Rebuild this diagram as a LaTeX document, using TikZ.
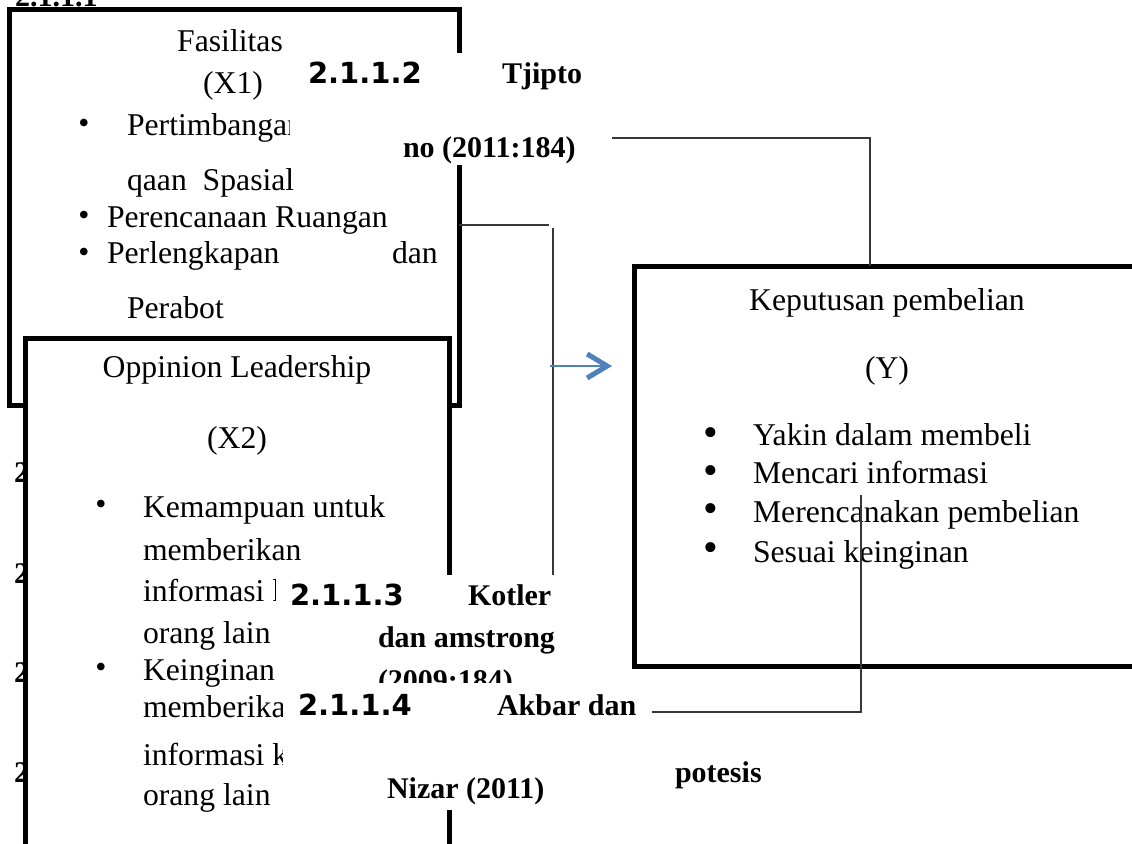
\documentclass[tikz,border=0pt]{standalone}
\usepackage{fontspec}
\setmainfont{Liberation Serif}
\newfontfamily\hsans{DejaVu Sans}
\usetikzlibrary{arrows.meta}
\definecolor{arrowblue}{RGB}{79,129,189}
\definecolor{linegray}{RGB}{55,55,55}
\begin{document}
\begin{tikzpicture}[x=1pt,y=-1pt,
  frame/.style={draw=black,line width=5pt,fill=white,rectangle,inner sep=0pt,outer sep=0pt},
  body/.style={font=\fontsize{31.7}{38}\selectfont,inner sep=0pt,outer sep=0pt,anchor=base west},
  bodyc/.style={body,anchor=base},
  head/.style={font=\fontsize{30}{36}\selectfont\bfseries,inner sep=0pt,outer sep=0pt,anchor=base west},
  headsans/.style={font=\hsans\fontsize{29}{34}\selectfont\bfseries,inner sep=0pt,outer sep=0pt,anchor=base west},
  cover/.style={fill=white,draw=none,rectangle,inner sep=0pt,outer sep=0pt},
  conn/.style={draw=linegray,line width=1.1pt},
  bul/.style={font=\fontsize{31.7}{38}\selectfont,inner sep=0pt,outer sep=0pt,anchor=center},
  bigbul/.style={font=\fontsize{42}{48}\selectfont,inner sep=0pt,outer sep=0pt,anchor=center},
  ]
\clip (0,0) rectangle (1132,843);
\fill[white] (0,0) rectangle (1132,843);

% partially hidden headings at the far left
\node[head] (t0) at (15,7) {2.1.1.1};
\node[head] (l1) at (14,482) {2};
\node[head] (l2) at (14,583) {2};
\node[head] (l3) at (14,682) {2};
\node[head] (l4) at (14,782) {2};

% Box X1
\node[frame,minimum width=449.5pt,minimum height=395.5pt] (fas) at (234.25,207.25) {};
\node[bodyc] (fas1) at (230,52) {Fasilitas};
\node[bodyc] (fas2) at (233,93) {(X1)};
\node[bul] (fb1) at (84,126) {\textbullet};
\node[body] (fa1) at (127,135) {Pertimbangan};
\node[body] (fa2) at (127,190) {qaan\ \ Spasial};
\node[bul] (fb2) at (84,218) {\textbullet};
\node[body] (fa3) at (107,227) {Perencanaan Ruangan};
\node[bul] (fb3) at (84,255) {\textbullet};
\node[body] (fa4) at (107,263) {Perlengkapan};
\node[body] (fa5) at (392,263) {dan};
\node[body] (fa6) at (127,318) {Perabot};

% Box X2
\node[frame,minimum width=424pt,minimum height=562pt] (opl) at (237,619) {};
\node[bodyc] (op1) at (237,377) {Oppinion Leadership};
\node[bodyc] (op2) at (237,448) {(X2)};
\node[bul] (ob1) at (101,507) {\textbullet};
\node[body] (oa1) at (143,517) {Kemampuan untuk};
\node[body] (oa2) at (143,560) {memberikan};
\node[body] (oa3) at (143,601) {informasi kepada};
\node[body] (oa4) at (143,643) {orang lain};
\node[bul] (ob2) at (101,670) {\textbullet};
\node[body] (oa5) at (143,680) {Keinginan untuk};
\node[body] (oa6) at (143,717) {memberikan};
\node[body] (oa7) at (143,765) {informasi kepada};
\node[body] (oa8) at (143,805) {orang lain};

% Box Y
\node[frame,minimum width=566pt,minimum height=400pt] (kp) at (917,466) {};
\node[bodyc] (kp1) at (887,310) {Keputusan pembelian};
\node[bodyc] (kp2) at (887,378) {(Y)};
\node[bigbul] (kb1) at (711,437) {\textbullet};
\node[body] (ka1) at (753,445) {Yakin dalam membeli};
\node[bigbul] (kb2) at (711,475) {\textbullet};
\node[body] (ka2) at (753,483) {Mencari informasi};
\node[bigbul] (kb3) at (711,513) {\textbullet};
\node[body] (ka3) at (753,522) {Merencanakan pembelian};
\node[bigbul] (kb4) at (711,552) {\textbullet};
\node[body] (ka4) at (753,562) {Sesuai keinginan};

% connectors
\coordinate (c1a) at (612,138);
\coordinate (c1b) at (870,266);
\draw[conn] (c1a) -| (c1b);
\coordinate (c2a) at (459,225);
\coordinate (c2b) at (549,225);
\draw[conn] (c2a) -- (c2b);
\coordinate (c3a) at (553,228);
\coordinate (c3b) at (553,576);
\draw[conn] (c3a) -- (c3b);
\coordinate (c4a) at (652,712);
\coordinate (c4b) at (861,495);
\draw[conn] (c4a) -| (c4b);
\coordinate (arA) at (550,366);
\coordinate (arB) at (612,366);
\draw[draw=arrowblue,line width=1.3pt,-{Straight Barb[length=20pt,width=24pt,line width=5pt]}] (arA) -- (arB);

% heading 2.1.1.2
\node[cover,minimum width=316pt,minimum height=112pt] (h2) at (448,109) {};
\node[headsans] (h2n) at (308,83) {2.1.1.2};
\node[head] (h2a) at (502,83) {Tjipto};
\node[head] (h2b) at (403,157) {no (2011:184)};

% heading 2.1.1.3
\node[cover,minimum width=324pt,minimum height=108pt] (h3) at (438,629) {};
\node[headsans] (h3n) at (290,605) {2.1.1.3};
\node[head] (h3a) at (468,605) {Kotler};
\node[head] (h3b) at (378,647) {dan amstrong};
\node[head] (h3c) at (378,690) {(2009:184)};

% heading 2.1.1.4
\node[cover,minimum width=367pt,minimum height=127pt] (h4) at (466.5,746.5) {};
\node[headsans] (h4n) at (298,715) {2.1.1.4};
\node[head] (h4a) at (497,715) {Akbar dan};
\node[head] (h4b) at (387,798) {Nizar (2011)};

\node[head] (pot) at (675,782) {potesis};
\end{tikzpicture}
\end{document}
